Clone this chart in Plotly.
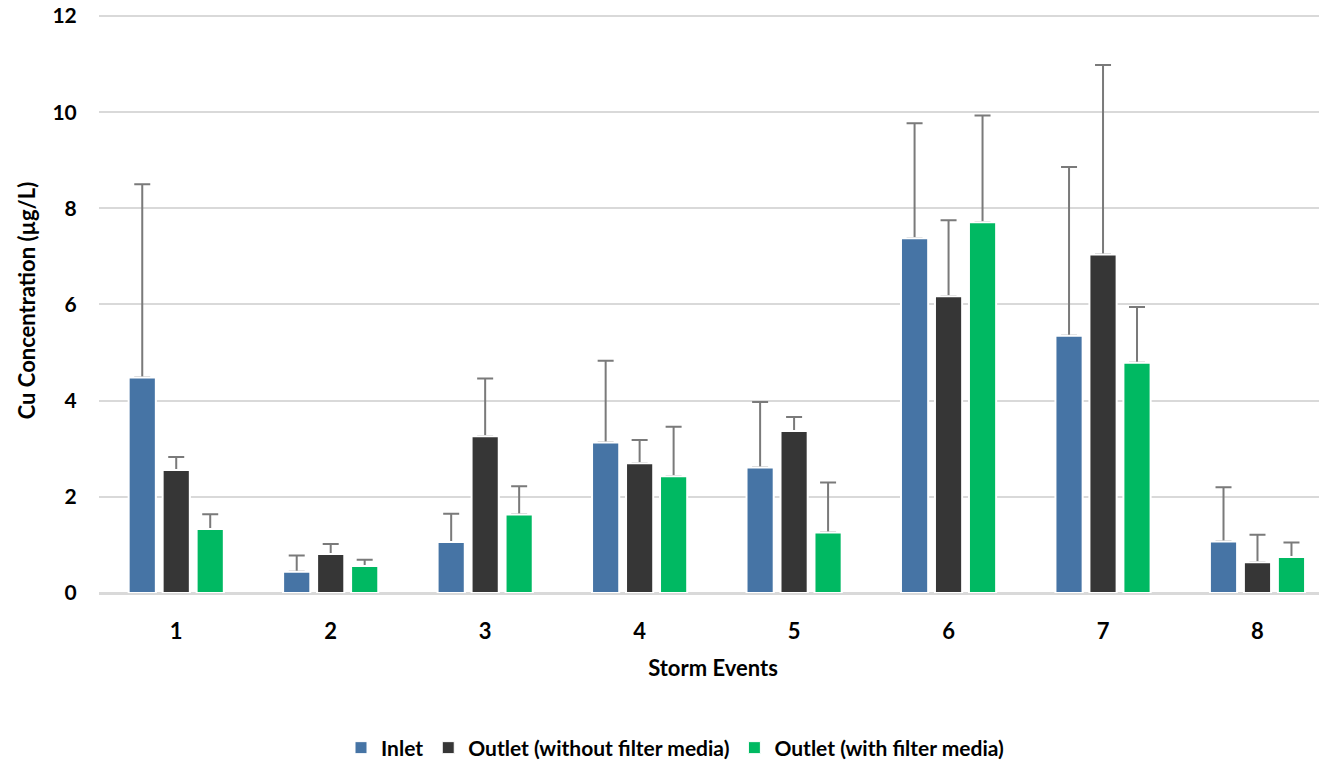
import plotly.graph_objects as go

events = ["1", "2", "3", "4", "5", "6", "7", "8"]
inlet = [4.48, 0.44, 1.06, 3.13, 2.61, 7.38, 5.35, 1.07]
inlet_err = [4.02, 0.34, 0.59, 1.70, 1.36, 2.39, 3.51, 1.13]
out_nofilter = [2.56, 0.81, 3.26, 2.70, 3.37, 6.17, 7.04, 0.64]
out_nofilter_err = [0.27, 0.21, 1.20, 0.48, 0.29, 1.58, 3.94, 0.57]
out_filter = [1.33, 0.56, 1.63, 2.43, 1.26, 7.71, 4.79, 0.75]
out_filter_err = [0.31, 0.13, 0.59, 1.03, 1.04, 2.22, 1.16, 0.30]

series = [
    ("Inlet", inlet, inlet_err, "#4674A5", "g1"),
    ("Outlet (without filter media)", out_nofilter, out_nofilter_err, "#363636", "g2"),
    ("Outlet (with filter media)", out_filter, out_filter_err, "#00B962", "g3"),
]

FONT = "Lato"
fig = go.Figure()
# bars with upward error bars
for name, vals, err, col, grp in series:
    fig.add_trace(go.Bar(
        x=events, y=vals, name=name, offsetgroup=grp,
        marker=dict(color=col, line=dict(color="white", width=1)),
        error_y=dict(type="data", array=err, arrayminus=[0] * len(err), symmetric=False,
                     color="#7A7A7A", thickness=2, width=8),
    ))
# same bars redrawn on top (no error bars) so only the upper whisker shows
for name, vals, err, col, grp in series:
    fig.add_trace(go.Bar(
        x=events, y=vals, name=name, offsetgroup=grp, showlegend=False,
        marker=dict(color=col, line=dict(color="white", width=2)),
        hoverinfo="skip",
    ))

# the page body has an 8px margin, so the figure is sized/offset to compensate
W, H = 1319, 755
fig.update_layout(
    width=W, height=H,
    paper_bgcolor="white", plot_bgcolor="white",
    margin=dict(l=91, r=0, t=0, b=170),
    barmode="group", bargap=0.34, bargroupgap=0.2,
    font=dict(family=FONT, color="black", size=22),
    showlegend=True,
    legend=dict(orientation="h", x=(667 - 91) / 1228, xanchor="center",
                yref="container", y=(H - 740) / H, yanchor="middle",
                font=dict(family=FONT, size=21, color="black", weight="bold"),
                traceorder="normal"),
    xaxis=dict(
        type="category", range=[-0.5, 7.45], automargin=False,
        title=dict(text="<b>Storm Events</b>", font=dict(family=FONT, size=22), standoff=17),
        tickfont=dict(family=FONT, size=22, weight="bold"),
        ticks="outside", ticklen=19, tickcolor="rgba(0,0,0,0)",
        showline=False, showgrid=False, zeroline=False,
    ),
    yaxis=dict(
        range=[0, 12.166], tickvals=[0, 2, 4, 6, 8, 10, 12], automargin=False,
        ticklabeloverflow="allow",
        title=dict(text="<b>Cu Concentration (µg/L)</b>", font=dict(family=FONT, size=22), standoff=10),
        tickfont=dict(family=FONT, size=21, weight="bold"),
        ticks="outside", ticklen=17, tickcolor="rgba(0,0,0,0)",
        showgrid=True, gridcolor="#D9D9D9", gridwidth=1.5,
        zeroline=True, zerolinecolor="#D9D9D9", zerolinewidth=2.5,
        showline=False,
    ),
)

fig.write_html("out.html")
